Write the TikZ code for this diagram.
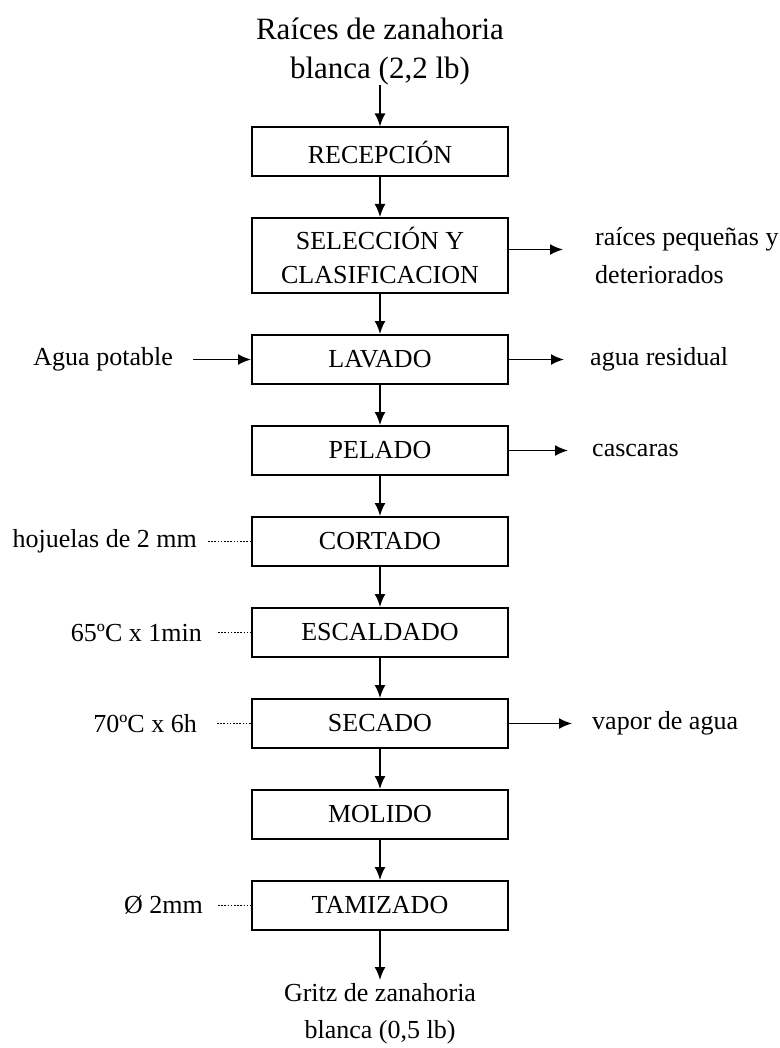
\documentclass[tikz,border=0pt]{standalone}
\usepackage{fontspec}
\setmainfont{Liberation Serif}
\usepackage{tikz}
\usetikzlibrary{calc,backgrounds}
\usetikzlibrary{arrows.meta}
\usetikzlibrary{positioning}
\tikzstyle{flow}=[
  font=\fontsize{26}{34}\selectfont
]
\tikzstyle{proc}=[
  draw, rectangle, line width=2pt, minimum width=256pt, minimum height=49pt, inner sep=2pt, align=center
]
\tikzstyle{side}=[
  inner sep=0pt, align=left
]
\tikzstyle{endtext}=[
  inner sep=3pt, align=center
]
\tikzset{
  go/.style={-{Latex[length=13pt,width=11pt]}, line width=1.8pt},
  aside/.style={line width=1.8pt, dash pattern=on 1.6pt off 1.6pt},
}

\begin{document}
\begin{tikzpicture}[flow]
      \def\lvl{91pt}
      \useasboundingbox (0pt,0pt) rectangle (779pt,-1048pt);
        \node (raw) at (380pt, -85pt) [endtext, anchor=south, inner sep=0pt, font=\fontsize{31}{39}\selectfont] {Raíces de zanahoria\\blanca (2,2 lb)};
        \node (recep) at (380pt, -152pt) [proc] {RECEPCIÓN};
        \node (selec) at ($(recep) + (0pt, -103.5pt)$) [proc, minimum height=75pt] {SELECCIÓN Y\\CLASIFICACION};
        \node (lavado) at ($(selec) + (0pt, -104pt)$) [proc] {LAVADO};
        \node (pelado) at ($(lavado) + (0pt, -\lvl)$) [proc] {PELADO};
        \node (cortado) at ($(pelado) + (0pt, -\lvl)$) [proc] {CORTADO};
        \node (escald) at ($(cortado) + (0pt, -\lvl)$) [proc] {ESCALDADO};
        \node (secado) at ($(escald) + (0pt, -\lvl)$) [proc] {SECADO};
        \node (molido) at ($(secado) + (0pt, -\lvl)$) [proc] {MOLIDO};
        \node (tamiz) at ($(molido) + (0pt, -\lvl)$) [proc] {TAMIZADO};
        \node (gritz) at (380pt, -980pt) [endtext, anchor=north, font=\fontsize{26}{37}\selectfont] {Gritz de zanahoria\\blanca (0,5 lb)};

        % salidas
        \node (descarte) [side, right=86pt of selec, font=\fontsize{26}{38}\selectfont] {raíces pequeñas y\\deteriorados};
        \node (resid) [side, right=81pt of lavado] {agua residual};
        \node (cascara) [side, right=83pt of pelado] {cascaras};
        \node (vapor) [side, right=83pt of secado] {vapor de agua};

        % entradas y condiciones
        \node (agua) [side, left=78pt of lavado] {Agua potable};
        \node (hojuela) [side, left=54pt of cortado] {hojuelas de 2 mm};
        \node (temp1) [side, left=49pt of escald] {65ºC x 1min};
        \node (temp2) [side, left=54pt of secado] {70ºC x 6h};
        \node (malla) [side, left=48pt of tamiz] {Ø 2mm};

        \begin{scope}[on background layer]
          \draw [go] (raw) -- (recep);
          \draw [go] (recep) -- (selec);
          \draw [go] (selec) -- (lavado);
          \draw [go] (lavado) -- (pelado);
          \draw [go] (pelado) -- (cortado);
          \draw [go] (cortado) -- (escald);
          \draw [go] (escald) -- (secado);
          \draw [go] (secado) -- (molido);
          \draw [go] (molido) -- (tamiz);
          \draw [go] (tamiz) -- (gritz);
          \draw [go, shorten >=32pt] ([yshift=6pt]selec.east) -- ([yshift=6pt]descarte.west);
          \draw [go, shorten >=26pt] (lavado.east) -- (resid.west);
          \draw [go, shorten >=24pt] (pelado.east) -- (cascara.west);
          \draw [go, shorten >=20pt] (secado.east) -- (vapor.west);
          \draw [go, shorten <=20pt] (agua.east) -- (lavado.west);
          \draw [aside, shorten <=11pt] (hojuela.east) -- (cortado.west);
          \draw [aside, shorten <=16pt] (temp1.east) -- (escald.west);
          \draw [aside, shorten <=20pt] (temp2.east) -- (secado.west);
          \draw [aside, shorten <=15pt] (malla.east) -- (tamiz.west);
    \end{scope}
    \end{tikzpicture}
\end{document}
